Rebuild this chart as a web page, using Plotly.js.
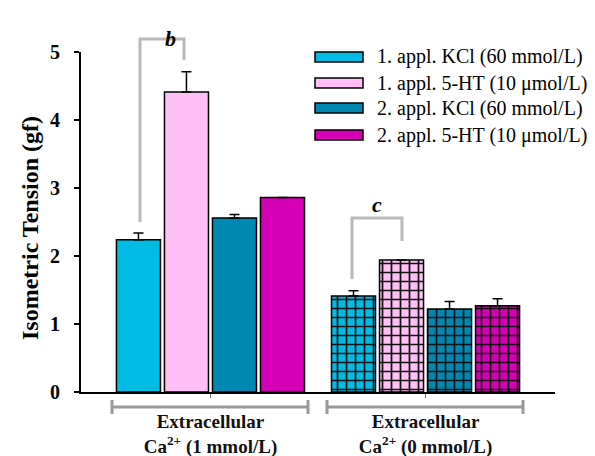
<!DOCTYPE html>
<html>
<head>
<meta charset="utf-8">
<script src="https://cdn.plot.ly/plotly-3.0.1.min.js"></script>
<style>html,body{margin:0;padding:0;background:#fff;}#chart{width:595px;height:456px;}</style>
</head>
<body>
<div id="chart"></div>
<script>
// ---- data ----
const categories = ["Extracellular<br>Ca<sup>2+</sup> (1 mmol/L)", "Extracellular<br>Ca<sup>2+</sup> (0 mmol/L)"];
const seriesNames = ["1. appl. KCl (60 mmol/L)", "1. appl. 5-HT (10 \u03bcmol/L)", "2. appl. KCl (60 mmol/L)", "2. appl. 5-HT (10 \u03bcmol/L)"];
const kcl1 = [2.24, 1.41];
const ht1 = [4.41, 1.94];
const kcl2 = [2.56, 1.22];
const ht2 = [2.86, 1.27];
const kcl1Err = [0.10, 0.08];
const ht1Err = [0.30, 0.0];
const kcl2Err = [0.05, 0.11];
const ht2Err = [0.0, 0.10];
const seriesColors = ["#00bbe3", "#ffc0f6", "#0088b2", "#d500b5"];
const yTicks = [0, 1, 2, 3, 4, 5];
const yTitle = "Isometric Tension (gf)";

const values = [kcl1, ht1, kcl2, ht2];
const errs = [kcl1Err, ht1Err, kcl2Err, ht2Err];

// ---- layout geometry (px) ----
const W = 595, H = 456;
const L = 81, R = 40, T = 52, B = 64;
const pw = W - L - R, ph = H - T - B;
const px = v => (v - L) / pw;          // pixel x -> paper
const py = v => (H - B - v) / ph;      // pixel y -> paper

const serif = "Liberation Serif, Times New Roman, serif";

const traces = values.map((vals, i) => ({
  type: "bar",
  name: seriesNames[i],
  x: categories,
  y: vals,
  showlegend: false,
  marker: {
    color: seriesColors[i],
    line: {color: "#000", width: 1.5},
    pattern: {
      shape: ["", "+"],
      fgcolor: "#111",
      bgcolor: seriesColors[i],
      fillmode: "replace",
      size: 9,
      solidity: 0.35
    }
  },
  error_y: {
    type: "data",
    symmetric: false,
    array: errs[i],
    arrayminus: [0, 0],
    color: "#000",
    thickness: 1.5,
    width: 5
  }
}));

const shapes = [];
const annotations = [];
const grey = "#b9b9b9";

// legend (custom swatches)
const legRows = [57, 83, 108, 135];
legRows.forEach((yy, i) => {
  shapes.push({type: "rect", xref: "paper", yref: "paper",
    x0: px(315), x1: px(363), y0: py(yy + 5), y1: py(yy - 5),
    fillcolor: seriesColors[i], line: {color: "#000", width: 1.5}});
  annotations.push({xref: "paper", yref: "paper", x: px(375), y: py(yy),
    xanchor: "left", yanchor: "middle", showarrow: false,
    text: seriesNames[i], font: {family: serif, size: 20, color: "#000"}});
});

// significance brackets
function bracket(xl, xr, ytop, yl, yr) {
  shapes.push({type: "path", xref: "paper", yref: "paper",
    path: `M${px(xl)},${py(yl)} L${px(xl)},${py(ytop)} L${px(xr)},${py(ytop)} L${px(xr)},${py(yr)}`,
    line: {color: grey, width: 3}});
}
bracket(140, 184, 39, 222, 60);
bracket(352, 402, 218, 279, 241);
annotations.push({xref: "paper", yref: "paper", x: px(163), y: py(24), showarrow: false,
  text: "<b><i>b</i></b>", font: {family: serif, size: 22, color: "#000"}});
annotations.push({xref: "paper", yref: "paper", x: px(377), y: py(205), showarrow: false,
  text: "<b><i>c</i></b>", font: {family: serif, size: 22, color: "#000"}});

// y-axis title
annotations.push({xref: "paper", yref: "paper", x: px(30), y: py(228), showarrow: false,
  textangle: -90, xanchor: "center", yanchor: "middle",
  text: "<b>" + yTitle + "</b>", font: {family: serif, size: 24, color: "#000"}});

// grey group brackets below axis
[[112, 308], [327, 523]].forEach(([a, b]) => {
  shapes.push({type: "line", xref: "paper", yref: "paper", x0: px(a), x1: px(b), y0: py(407), y1: py(407), line: {color: "#999", width: 3}});
  shapes.push({type: "line", xref: "paper", yref: "paper", x0: px(a), x1: px(a), y0: py(400), y1: py(414), line: {color: "#999", width: 3}});
  shapes.push({type: "line", xref: "paper", yref: "paper", x0: px(b), x1: px(b), y0: py(400), y1: py(414), line: {color: "#999", width: 3}});
});

const layout = {
  width: W, height: H,
  margin: {l: L, r: R, t: T, b: B, pad: 0},
  paper_bgcolor: "#fff", plot_bgcolor: "#fff",
  barmode: "group",
  bargap: 0.107,
  bargroupgap: 0.083,
  showlegend: false,
  font: {family: serif, color: "#000"},
  xaxis: {
    type: "category",
    range: [-0.602, 1.602],
    showline: true, linecolor: "#000", linewidth: 2,
    ticks: "outside", ticklen: 4, tickcolor: "#666", tickwidth: 1,
    ticklabelstandoff: 7,
    tickfont: {family: serif, size: 19, color: "#111", weight: "bold"},
    showgrid: false, zeroline: false, fixedrange: true
  },
  yaxis: {
    range: [0, 5],
    tickvals: yTicks,
    ticktext: yTicks.map(v => "<b>" + v + "</b>"),
    showline: true, linecolor: "#000", linewidth: 2,
    ticks: "outside", ticklen: 5, tickcolor: "#000", tickwidth: 1.5,
    ticklabelstandoff: 10,
    tickfont: {family: serif, size: 20, color: "#000"},
    showgrid: false, zeroline: false
  },
  shapes: shapes,
  annotations: annotations
};

Plotly.newPlot("chart", traces, layout, {displayModeBar: false, staticPlot: true});
</script>
</body>
</html>
